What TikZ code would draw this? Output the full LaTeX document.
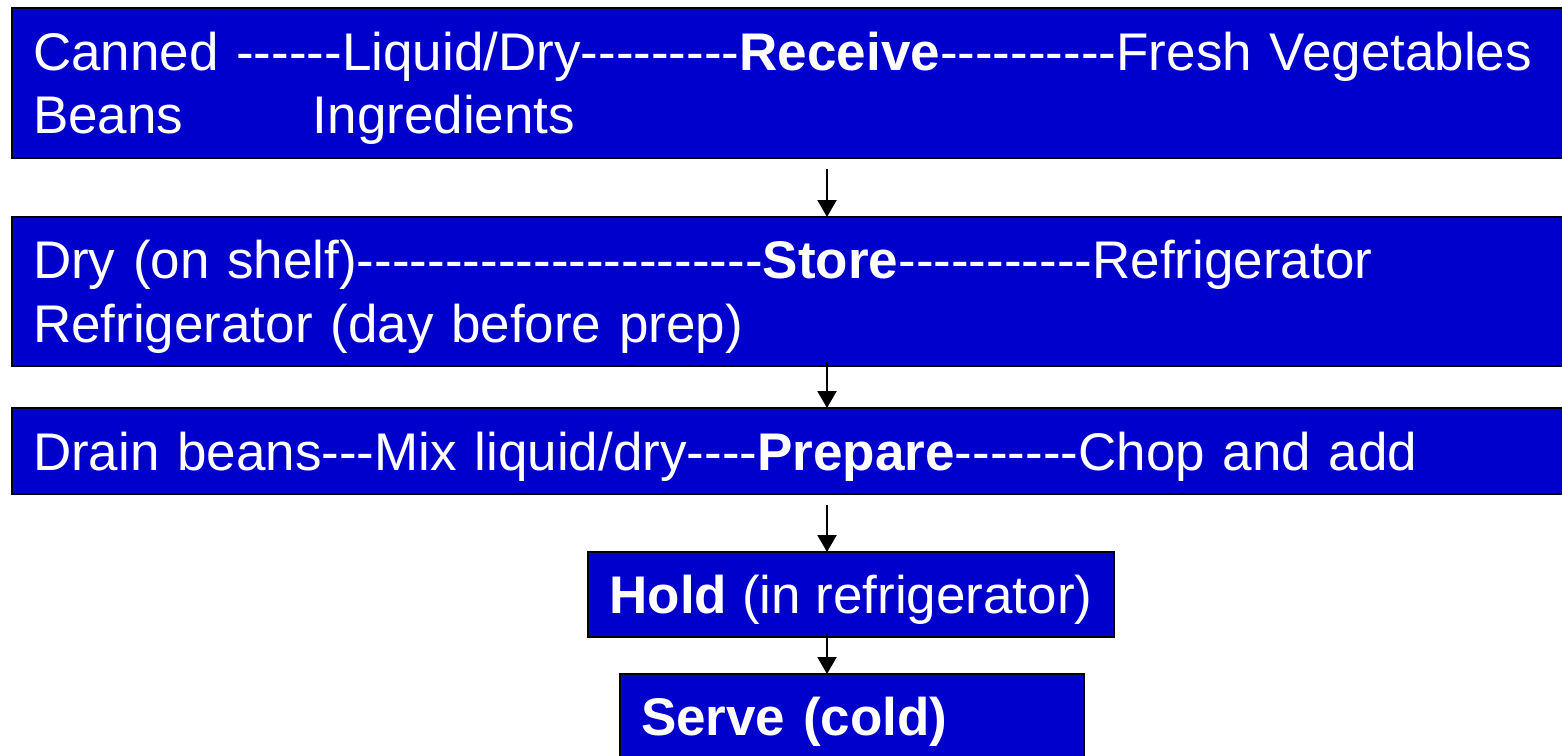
\documentclass[tikz,border=0pt]{standalone}
\usepackage{fontspec}
\setmainfont{Liberation Sans}[Ligatures=TeXOff]
\usepackage{tikz}
\usetikzlibrary{positioning,arrows.meta}
\definecolor{haccpblue}{RGB}{0, 0, 204}

\begin{document}
\begin{tikzpicture}[
    x=0.5pt, y=-0.5pt,
    box/.style={
        rectangle, draw=black, line width=1.4pt, fill=haccpblue,
        text=white, align=left, anchor=north west,
        inner xsep=10.5pt, inner ysep=0pt, outer sep=0pt,
        font=\fontsize{26.5pt}{31.75pt}\selectfont
    },
    widebox/.style={box, text width=760.5pt},
    oneline/.style={text height=24.6pt, text depth=5.6pt},
    twoline/.style={text height=24.6pt, text depth=37.35pt},
    arrow/.style={-{Triangle[width=9.5pt,length=8.5pt]}, line width=1.1pt}
]
    \useasboundingbox (0,0) rectangle (1562,755);

    \node[widebox, twoline, minimum height=75pt] (receive) at (12,8)
        {Canned ------Liquid/Dry---------\textbf{Receive}----------Fresh Vegetables\\
         \makebox[140pt][l]{Beans}Ingredients};
    \node[widebox, twoline, minimum height=74.5pt, below=29.5pt of receive.south west, anchor=north west] (store)
        {Dry (on shelf)-----------------------\textbf{Store}-----------Refrigerator\\
         Refrigerator (day before prep)};
    \node[widebox, oneline, minimum height=43pt, below=21pt of store.south west, anchor=north west] (prepare)
        {Drain beans---Mix liquid/dry----\textbf{Prepare}-------Chop and add};
    \node[box, oneline, minimum width=263pt, minimum height=42.5pt] (hold) at (588,552)
        {\textbf{Hold} (in refrigerator)};
    \node[box, oneline, text width=211pt, minimum height=42.5pt] (serve) at (620,674)
        {\textbf{Serve (cold)}};

    \coordinate (ax) at (827,0);
    \draw[arrow, shorten <=5.5pt] (ax |- receive.south) -- (ax |- store.north);
    \draw[arrow, shorten <=-2pt] (ax |- store.south) -- (ax |- prepare.north);
    \draw[arrow, shorten <=5.5pt] (ax |- prepare.south) -- (ax |- hold.north);
    \draw[arrow, shorten <=-2pt] (ax |- hold.south) -- (ax |- serve.north);
\end{tikzpicture}
\end{document}
